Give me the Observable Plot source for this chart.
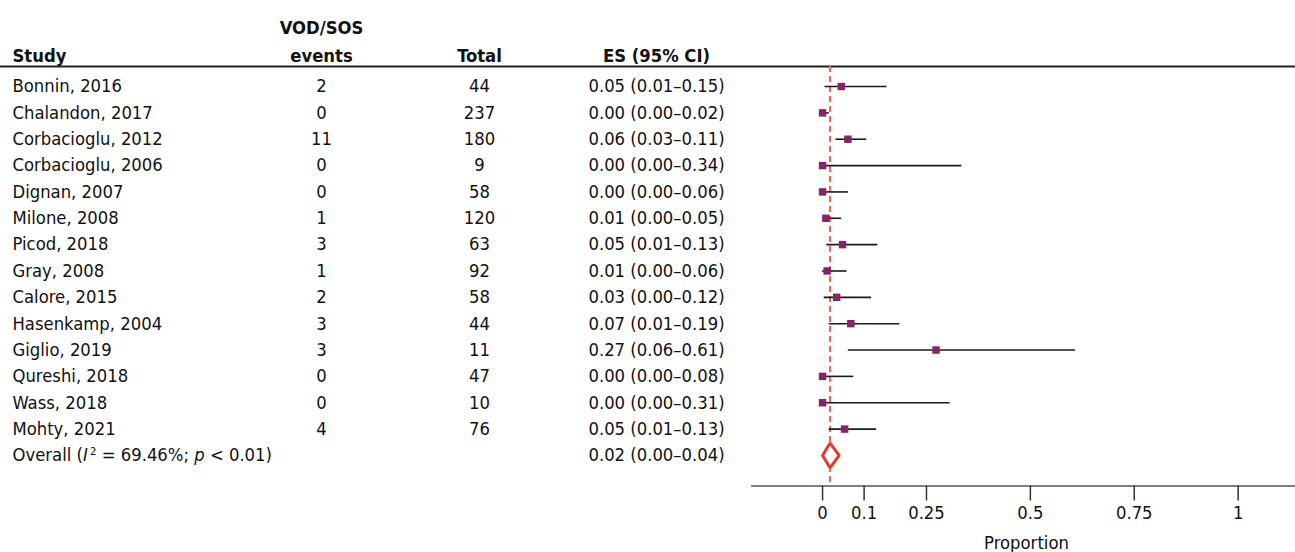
<!DOCTYPE html>
<html>
<head>
<meta charset="utf-8">
<script src="https://cdn.jsdelivr.net/npm/d3@7"></script>
<script src="https://cdn.jsdelivr.net/npm/@observablehq/plot@0.6"></script>
<style>
  html, body { margin: 0; padding: 0; background: #fff; }
  #chart { width: 1295px; height: 552px; overflow: hidden; }
  #chart svg text { font-stretch: condensed; }
</style>
</head>
<body>
<div id="chart"></div>
<script>
// ---- data ----
const studies = ["Bonnin, 2016", "Chalandon, 2017", "Corbacioglu, 2012", "Corbacioglu, 2006",
  "Dignan, 2007", "Milone, 2008", "Picod, 2018", "Gray, 2008", "Calore, 2015",
  "Hasenkamp, 2004", "Giglio, 2019", "Qureshi, 2018", "Wass, 2018", "Mohty, 2021"];
const events = [2, 0, 11, 0, 0, 1, 3, 1, 2, 3, 3, 0, 0, 4];
const totals = [44, 237, 180, 9, 58, 120, 63, 92, 58, 44, 11, 47, 10, 76];
const esLabels = ["0.05 (0.01–0.15)", "0.00 (0.00–0.02)", "0.06 (0.03–0.11)", "0.00 (0.00–0.34)",
  "0.00 (0.00–0.06)", "0.01 (0.00–0.05)", "0.05 (0.01–0.13)", "0.01 (0.00–0.06)",
  "0.03 (0.00–0.12)", "0.07 (0.01–0.19)", "0.27 (0.06–0.61)", "0.00 (0.00–0.08)",
  "0.00 (0.00–0.31)", "0.05 (0.01–0.13)"];
const es = [0.045, 0.0, 0.061, 0.0, 0.0, 0.008, 0.048, 0.011, 0.034, 0.068, 0.273, 0.0, 0.0, 0.053];
const lo = [0.006, 0.0, 0.032, 0.0, 0.0, 0.0, 0.010, 0.0, 0.004, 0.016, 0.062, 0.0, 0.0, 0.016];
const hi = [0.155, 0.016, 0.106, 0.335, 0.062, 0.046, 0.133, 0.059, 0.118, 0.186, 0.609, 0.075, 0.307, 0.130];
const overallLabel = "Overall (I² = 69.46%; p < 0.01)";
const overallES = "0.02 (0.00–0.04)";
const overall = {est: 0.018, lo: 0.0, hi: 0.04};
const xTicks = [0, 0.1, 0.25, 0.5, 0.75, 1];
const xDomain = [-0.171, 1.138];
const headers = {study: "Study", events: ["VOD/SOS", "events"], total: "Total", es: "ES (95% CI)"};

// ---- table ----
const rows = studies.map((s, i) => ({i, study: s, events: events[i], total: totals[i], label: esLabels[i], es: es[i], lo: lo[i], hi: hi[i]}));
const overallRow = 14;
const yDomain = [-0.76, 15.16];

const FONT = '"DejaVu Sans Condensed", "Liberation Sans Narrow", "DejaVu Sans", sans-serif';
const FS = 18.3;
const W = 1295, H = 552, ML = 751;
const col = {study: 12, events: 321, total: 479, es: 656};

const diamond = [
  {x: overall.lo, y: overallRow},
  {x: overall.est, y: overallRow - 0.47},
  {x: overall.hi, y: overallRow},
  {x: overall.est, y: overallRow + 0.47},
  {x: overall.lo, y: overallRow}
];

const textRows = [...rows, {i: overallRow, study: overallLabel, events: "", total: "", label: overallES}];

const chart = Plot.plot({
  width: W,
  height: H,
  marginLeft: ML,
  marginRight: 0,
  marginTop: 66,
  marginBottom: 66.5,
  style: {fontFamily: FONT, fontSize: FS + "px", color: "#111", background: "#fff"},
  x: {domain: xDomain, axis: null},
  y: {domain: yDomain, axis: null, reverse: true},
  marks: [
    // header line
    Plot.ruleY([yDomain[0]], {stroke: "#222", strokeWidth: 2, insetLeft: -ML}),
    // axis line
    Plot.ruleY([yDomain[1]], {stroke: "#555", strokeWidth: 1.5}),
    // reference dashed line at overall estimate
    Plot.ruleX([overall.est], {stroke: "#f0625a", strokeWidth: 2, strokeDasharray: "6,4"}),
    // CIs
    Plot.ruleY(rows, {y: "i", x1: "lo", x2: "hi", stroke: "#1a1a1a", strokeWidth: 1.6}),
    // squares
    Plot.dot(rows, {x: "es", y: "i", symbol: "square", r: 4.2, fill: "#852467", stroke: "none"}),
    // diamond
    Plot.line(diamond, {x: "x", y: "y", stroke: "#e23a2a", strokeWidth: 3, fill: "#fff", strokeLinejoin: "miter"}),
    // x axis
    Plot.axisX({ticks: xTicks, tickFormat: d => String(d), tickSize: 15, tickPadding: 5,
      stroke: "#333", strokeWidth: 1.5, fontSize: FS, label: null, fill: "#111"}),
    Plot.text(["Proportion"], {frameAnchor: "bottom", dy: 50, dx: 3, lineAnchor: "top", fill: "#111", fontSize: FS}),
    // table columns
    Plot.text(textRows, {y: "i", text: "study", frameAnchor: "left", dx: col.study - ML, textAnchor: "start", fill: "#111"}),
    Plot.text(textRows, {y: "i", text: d => String(d.events), frameAnchor: "left", dx: col.events - ML, textAnchor: "middle", fill: "#111"}),
    Plot.text(textRows, {y: "i", text: d => String(d.total), frameAnchor: "left", dx: col.total - ML, textAnchor: "middle", fill: "#111"}),
    Plot.text(textRows, {y: "i", text: "label", frameAnchor: "left", dx: col.es - ML, textAnchor: "middle", fill: "#111"}),
    // headers
    Plot.text([headers.study], {frameAnchor: "top-left", dx: col.study - ML, dy: -18, textAnchor: "start", fontWeight: "bold", fill: "#111"}),
    Plot.text([headers.events[0]], {frameAnchor: "top-left", dx: col.events - ML, dy: -46, textAnchor: "middle", fontWeight: "bold", fill: "#111"}),
    Plot.text([headers.events[1]], {frameAnchor: "top-left", dx: col.events - ML, dy: -18, textAnchor: "middle", fontWeight: "bold", fill: "#111"}),
    Plot.text([headers.total], {frameAnchor: "top-left", dx: col.total - ML, dy: -18, textAnchor: "middle", fontWeight: "bold", fill: "#111"}),
    Plot.text([headers.es], {frameAnchor: "top-left", dx: col.es - ML, dy: -18, textAnchor: "middle", fontWeight: "bold", fill: "#111"})
  ]
});

// rich text for the overall label (italic I and p, superscript 2)
d3.select(chart).selectAll("text").filter(function() { return this.textContent === overallLabel; })
  .each(function() {
    const t = d3.select(this);
    t.text(null);
    t.append("tspan").text("Overall (");
    t.append("tspan").attr("font-style", "italic").text("I");
    t.append("tspan").attr("font-size", "0.62em").attr("dy", "-0.55em").attr("dx", "0.2em").text("2");
    t.append("tspan").attr("dy", "0.34em").text(" = 69.46%; ");
    t.append("tspan").attr("font-style", "italic").text("p");
    t.append("tspan").text(" < 0.01)");
  });

document.getElementById("chart").appendChild(chart);
</script>
</body>
</html>
